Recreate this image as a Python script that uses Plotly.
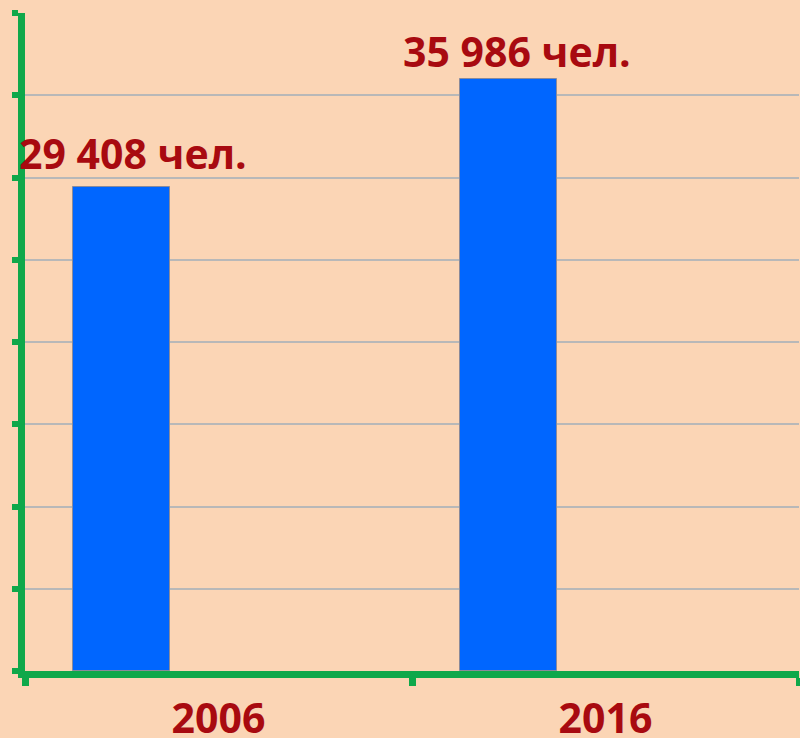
import plotly.graph_objects as go

years = ["2006", "2016"]
people = [29408, 35986]
labels = ["29 408 чел.", "35 986 чел."]

BG = "#FBD5B5"
GREEN = "#0FA84A"
RED = "#A80A10"
FONT = "Open Sans"

fig = go.Figure()
fig.add_trace(go.Bar(
    x=years, y=people,
    width=0.25, offset=-0.375,
    marker=dict(color="#0066FF", line=dict(color="#8A8A9A", width=1)),
    showlegend=False, hoverinfo="x+y",
))

label_shift = [(8, 4), (5, -2)]
for i, (v, t, (dx, dy)) in enumerate(zip(people, labels, label_shift)):
    fig.add_annotation(
        xref="x", yref="y",
        x=i, y=v, text=f"<b>{t}</b>", showarrow=False,
        xanchor="center", yanchor="bottom",
        xshift=-94 + dx, yshift=dy,
        font=dict(family=FONT, size=41, color=RED),
    )

fig.update_layout(
    width=800, height=738,
    margin=dict(l=25, r=1, t=13, b=67, autoexpand=False),
    paper_bgcolor=BG, plot_bgcolor=BG,
    bargap=0,
    xaxis=dict(
        type="category", range=[-0.5, 1.5], automargin=False,
        showline=True, linecolor=GREEN, linewidth=7,
        ticks="outside", tickson="boundaries", ticklen=8, tickwidth=7, tickcolor=GREEN,
        showgrid=False, zeroline=False,
        ticklabelstandoff=6,
        tickfont=dict(family=FONT, size=41, color=RED, weight="bold"),
    ),
    yaxis=dict(
        range=[0, 40000], dtick=5000, automargin=False,
        showline=True, linecolor=GREEN, linewidth=7,
        ticks="outside", ticklen=6, tickwidth=6, tickcolor=GREEN,
        showticklabels=False,
        showgrid=True, gridcolor="#B8B8B8", gridwidth=2,
        zeroline=False,
    ),
)

fig.write_html("out.html", config={"displayModeBar": False},
               post_script="document.body.style.margin='0';")
